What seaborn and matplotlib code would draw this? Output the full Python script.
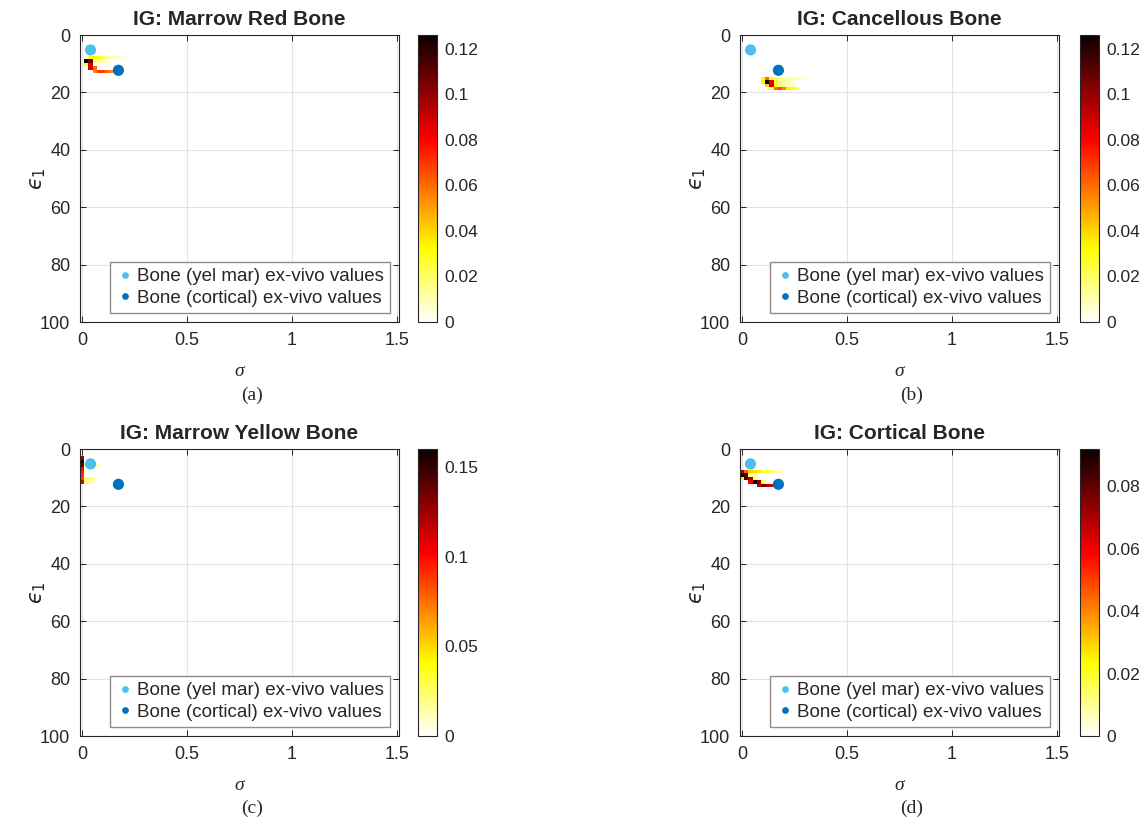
"""
IG maps for four bone tissues, sigma vs eps_1
"""
import numpy as np
import seaborn as sns
import matplotlib.pyplot as plt
from matplotlib.ticker import FuncFormatter

sns.set_style("ticks")
plt.rcParams['font.family'] = ['Liberation Sans', 'DejaVu Sans']
plt.rcParams['mathtext.fontset'] = 'dejavusans'

# ex-vivo reference points
pt_sigma = [0.04, 0.173]
pt_eps = [5.2, 12.3]
pt_labels = ["Bone (yel mar) ex-vivo values", "Bone (cortical) ex-vivo values"]
pt_colors = ["#4DBEEE", "#0072BD"]

# grid of the maps: sigma step 0.02, eps step 1.2
d_sigma = 0.02
d_eps = 1.2

# non-zero IG cells, row by row: eps of the row, sigma of first cell, values
red_eps = [7.9, 9.1, 10.3, 11.5, 12.7]
red_start = [0.04, 0.02, 0.02, 0.04, 0.06]
red_ig = [[0.032, 0.032, 0.028, 0.018, 0.014, 0.011, 0.008, 0.006, 0.004],
          [0.125, 0.105, 0.014, 0.012, 0.009, 0.006],
          [0.03, 0.085],
          [0.085, 0.06],
          [0.055, 0.07, 0.07, 0.06, 0.055, 0.035, 0.02]]

canc_eps = [15.1, 16.3, 17.5, 18.7]
canc_start = [0.10, 0.10, 0.12, 0.14]
canc_ig = [[0.03, 0.06, 0.028, 0.02, 0.016, 0.014, 0.012, 0.01, 0.008, 0.007, 0.005, 0.004],
           [0.035, 0.125, 0.085, 0.025, 0.014, 0.012, 0.009, 0.006],
           [0.04, 0.09, 0.032, 0.016, 0.013, 0.01, 0.008],
           [0.022, 0.06, 0.065, 0.055, 0.035, 0.03, 0.018]]

yel_eps = [3.1, 4.3, 5.5, 6.7, 7.9, 9.1, 10.3, 11.5]
yel_start = [0.0, 0.0, 0.0, 0.0, 0.0, 0.0, 0.0, 0.0]
yel_ig = [[0.12],
          [0.155],
          [0.14, 0.022, 0.016, 0.011, 0.007],
          [0.1],
          [0.095],
          [0.09],
          [0.085, 0.026, 0.02, 0.011],
          [0.11, 0.022, 0.016, 0.009]]

cort_eps = [7.9, 9.1, 10.3, 11.5, 12.7]
cort_start = [0.0, 0.0, 0.0, 0.04, 0.08]
cort_ig = [[0.07, 0.045, 0.03, 0.028, 0.025, 0.015, 0.022, 0.012, 0.009, 0.007, 0.005],
           [0.09, 0.08, 0.013, 0.009],
           [0.025, 0.085, 0.07, 0.011],
           [0.06, 0.09, 0.075, 0.016],
           [0.065, 0.08, 0.07, 0.065, 0.04]]

titles = ["IG: Marrow Red Bone", "IG: Cancellous Bone",
          "IG: Marrow Yellow Bone", "IG: Cortical Bone"]
letters = ["(a)", "(b)", "(c)", "(d)"]
vmaxes = [0.126, 0.126, 0.16, 0.092]
cticks = [[0, 0.02, 0.04, 0.06, 0.08, 0.1, 0.12],
          [0, 0.02, 0.04, 0.06, 0.08, 0.1, 0.12],
          [0, 0.05, 0.1, 0.15],
          [0, 0.02, 0.04, 0.06, 0.08]]


def expand(eps_rows, starts, ig_rows):
    s, e, w = [], [], []
    for ey, s0, vals in zip(eps_rows, starts, ig_rows):
        for i, v in enumerate(vals):
            s.append(s0 + i * d_sigma)
            e.append(ey)
            w.append(v)
    return s, e, w


maps = [(red_eps, red_start, red_ig), (canc_eps, canc_start, canc_ig),
        (yel_eps, yel_start, yel_ig), (cort_eps, cort_start, cort_ig)]

W, H = 1144, 821
fig = plt.figure(figsize=(W / 100, H / 100), dpi=100)
ax_left = [80, 740]
ax_top = [35, 449]
cb_left = [418, 1080]
letter_x = [252, 912]
letter_y = [395, 808]
fmt = FuncFormatter(lambda v, p: f"{v:g}")

for i in range(4):
    c, r = i % 2, i // 2
    bottom = 1 - (ax_top[r] + 287) / H
    ax = fig.add_axes([ax_left[c] / W, bottom, 319 / W, 287 / H])
    cax = fig.add_axes([cb_left[c] / W, bottom, 19 / W, 287 / H])

    s, e, w = expand(*maps[i])
    sns.histplot(x=s, y=e, weights=w, binwidth=(d_sigma, d_eps),
                 binrange=((-0.01, 1.51), (0.1, 100.9)),
                 cmap="hot_r", vmin=0, vmax=vmaxes[i],
                 cbar=True, cbar_ax=cax, ax=ax)
    sns.scatterplot(x=pt_sigma, y=pt_eps, hue=pt_labels, palette=pt_colors,
                    s=65, linewidth=0, ax=ax, zorder=3)

    ax.set_xlim(-0.01, 1.51)
    ax.set_ylim(100, 0)
    ax.set_xticks([0, 0.5, 1, 1.5])
    ax.set_yticks([0, 20, 40, 60, 80, 100])
    ax.xaxis.set_major_formatter(fmt)
    ax.grid(True, color="#e3e3e3", lw=0.8)
    ax.set_axisbelow(True)
    ax.tick_params(direction="in", length=4, top=True, right=True, pad=7,
                   labelsize=13, colors="#262626", width=0.7)
    for sp in ax.spines.values():
        sp.set_visible(True)
        sp.set_color("#262626")
        sp.set_linewidth(0.8)

    ax.set_title(titles[i], fontweight="bold", fontsize=15, pad=7)
    ax.set_xlabel("σ", family="Liberation Serif", style="italic", fontsize=14)
    ax.xaxis.set_label_coords(0.5, -0.143)
    ax.set_ylabel("$\u03f5_1$", fontsize=15)
    ax.yaxis.set_label_coords(-0.1, 0.5)

    ax.legend(loc="lower right", frameon=True, fancybox=False,
              edgecolor="#8c8c8c", framealpha=1, fontsize=13.5,
              markerscale=0.6, borderaxespad=0.5, handletextpad=0.15,
              borderpad=0.3, labelspacing=0.25, handlelength=1.0)

    cax.set_ylim(0, vmaxes[i])
    cax.set_yticks(cticks[i])
    cax.yaxis.set_major_formatter(fmt)
    cax.tick_params(direction="in", length=3, labelsize=12.5, pad=5,
                    colors="#262626", width=0.7)
    for sp in cax.spines.values():
        sp.set_color("#262626")
        sp.set_linewidth(0.8)

    fig.text(letter_x[c] / W, 1 - letter_y[r] / H, letters[i],
             ha="center", va="center", family="Liberation Serif", fontsize=14)

fig.savefig("out.png", dpi=100)
